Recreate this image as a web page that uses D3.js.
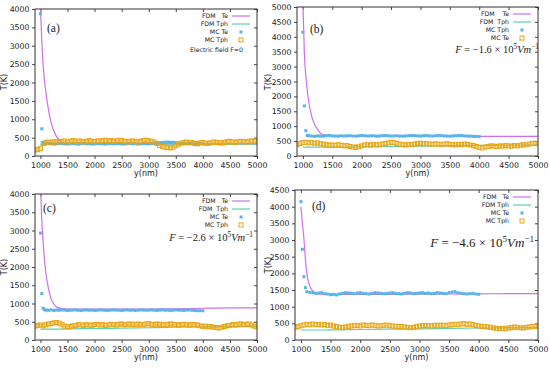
<!DOCTYPE html>
<html>
<head>
<meta charset="utf-8">
<script src="https://cdn.jsdelivr.net/npm/d3@7"></script>
<style>
  html, body { margin: 0; padding: 0; background: #fff; }
  svg text { font-family: "DejaVu Sans", sans-serif; fill: #222; }
  .serif { font-family: "Liberation Serif", "DejaVu Serif", serif; }
</style>
</head>
<body>
<svg id="chart" width="550" height="369"></svg>
<script>
// x grids (nm)
const fdmX = [1000, 1025, 1050, 1075, 1100, 1150, 1200, 1250, 1300, 1400, 1500, 2000, 2500, 3000, 3500, 4000, 4500, 5000];
const mcHeadX = [1000, 1025, 1050, 1075];
const mcBodyX = d3.range(1100, 4001, 50);   // 59 positions
const tphX = d3.range(900, 5001, 50);       // 83 positions
const xTicks = [1000, 1500, 2000, 2500, 3000, 3500, 4000, 4500, 5000];

// ---- (a) F = 0
const fdmTeA = [4050, 3150, 2500, 2050, 1750, 1250, 900, 680, 520, 380, 340, 330, 330, 330, 330, 330, 330, 330];
const fdmTphA = [320, 320, 320, 320, 320, 320, 320, 320, 320, 320, 320, 320, 320, 320, 320, 320, 320, 320];
const mcBlueA = [3870, 740, 350, 330,
  330, 340, 335, 325, 330, 340, 335, 330, 325, 335,
  340, 330, 325, 335, 340, 330, 335, 325, 330, 340,
  335, 330, 325, 335, 340, 330, 335, 340, 330, 325,
  335, 340, 330, 335, 325, 330, 340, 335, 330, 340,
  345, 350, 360, 370, 375, 380, 370, 375, 365, 355,
  340, 335, 330, 340, 335, 330, 340, 335, 330];
const mcOrangeA = [
  160, 180, 200, 340, 370, 380, 360, 390, 380, 400,
  390, 410, 380, 400, 420, 390, 410, 400, 380, 400,
  420, 400, 390, 410, 400, 420, 430, 410, 420, 400,
  410, 430, 420, 400, 380, 400, 410, 390, 380, 400,
  420, 430, 410, 400, 380, 340, 290, 260, 240, 230,
  220, 240, 280, 320, 350, 370, 380, 360, 370, 340,
  330, 360, 370, 350, 340, 360, 380, 370, 360, 350,
  370, 390, 400, 380, 370, 390, 400, 390, 380, 400,
  410, 400, 410];

// ---- (b) F = -1.6e5
const fdmTeB = [5200, 3450, 2700, 2200, 1820, 1330, 1060, 900, 760, 690, 675, 670, 670, 670, 665, 660, 660, 660];
const fdmTphB = [300, 300, 300, 300, 300, 300, 300, 300, 300, 300, 300, 310, 320, 330, 345, 355, 360, 365];
const mcBlueB = [4150, 1680, 850, 690,
  680, 670, 660, 675, 670, 665, 680, 690, 675, 670,
  665, 680, 670, 675, 685, 670, 665, 680, 690, 680,
  670, 675, 680, 665, 670, 685, 690, 680, 670, 675,
  680, 670, 665, 675, 680, 690, 685, 675, 670, 680,
  685, 675, 670, 680, 690, 685, 675, 670, 665, 675,
  680, 690, 685, 675, 670, 665, 660, 655, 650];
const mcOrangeB = [
  380, 420, 450, 460, 440, 450, 430, 440, 410, 400,
  380, 360, 370, 350, 380, 360, 340, 350, 320, 300,
  290, 310, 340, 370, 380, 360, 390, 370, 380, 400,
  420, 440, 460, 450, 420, 400, 380, 370, 390, 380,
  400, 420, 430, 410, 420, 400, 390, 410, 400, 380,
  400, 410, 390, 380, 370, 390, 380, 400, 390, 370,
  350, 320, 290, 270, 300, 320, 340, 330, 320, 340,
  330, 350, 340, 330, 350, 340, 360, 380, 370, 400,
  420, 430, 410];

// ---- (c) F = -2.6e5
const fdmTeC = [4300, 3300, 2700, 2200, 1850, 1400, 1120, 980, 900, 860, 850, 850, 850, 850, 855, 870, 880, 880];
const fdmTphC = [300, 300, 300, 300, 300, 300, 300, 300, 300, 300, 305, 315, 325, 335, 350, 360, 365, 370];
const mcBlueC = [2930, 1270, 870, 830,
  820, 815, 825, 810, 820, 815, 825, 820, 810, 815,
  820, 825, 815, 810, 820, 825, 815, 820, 810, 815,
  825, 820, 815, 810, 820, 825, 820, 815, 810, 820,
  825, 815, 820, 810, 815, 825, 820, 815, 820, 825,
  815, 810, 820, 825, 815, 820, 810, 815, 825, 820,
  815, 810, 820, 825, 815, 810, 800, 805, 800];
const mcOrangeC = [
  380, 400, 410, 390, 420, 440, 450, 470, 480, 460,
  420, 380, 360, 370, 390, 400, 420, 410, 400, 420,
  410, 400, 420, 430, 410, 420, 400, 410, 430, 420,
  410, 430, 440, 420, 430, 440, 430, 420, 440, 430,
  420, 440, 450, 430, 420, 440, 430, 420, 410, 430,
  440, 430, 420, 410, 420, 430, 420, 410, 430, 420,
  410, 390, 370, 380, 360, 370, 350, 340, 330, 350,
  370, 390, 400, 420, 410, 430, 440, 420, 430, 440,
  410, 380, 360];

// ---- (d) F = -4.6e5
const fdmTeD = [4000, 3500, 3050, 2450, 2000, 1620, 1470, 1400, 1380, 1370, 1370, 1370, 1370, 1375, 1380, 1385, 1390, 1390];
const fdmTphD = [300, 300, 300, 300, 300, 300, 300, 300, 300, 300, 305, 315, 325, 335, 350, 360, 365, 370];
const mcBlueD = [4150, 2720, 1900, 1570,
  1450, 1430, 1420, 1400, 1410, 1420, 1390, 1380, 1360, 1370,
  1350, 1380, 1400, 1420, 1410, 1400, 1390, 1410, 1420, 1400,
  1390, 1380, 1400, 1420, 1410, 1400, 1390, 1400, 1410, 1420,
  1400, 1390, 1380, 1400, 1420, 1410, 1390, 1400, 1410, 1420,
  1400, 1410, 1390, 1400, 1420, 1410, 1400, 1390, 1420, 1440,
  1450, 1420, 1400, 1390, 1380, 1390, 1400, 1380, 1370];
const mcOrangeD = [
  380, 400, 430, 450, 470, 460, 480, 460, 470, 450,
  460, 440, 450, 420, 400, 380, 370, 390, 410, 420,
  430, 440, 420, 450, 440, 430, 450, 440, 420, 430,
  440, 450, 430, 420, 410, 400, 410, 390, 380, 370,
  380, 400, 420, 430, 440, 430, 420, 440, 430, 450,
  440, 430, 450, 460, 470, 460, 480, 490, 470, 480,
  460, 440, 420, 410, 400, 390, 380, 360, 350, 340,
  350, 340, 360, 370, 390, 380, 370, 360, 380, 390,
  400, 410, 420];

const legendA = ["FDM   Te", "FDM Tph", "MC Te", "MC Tph"];
const legendB = ["FDM    Te", "FDM  Tph", "MC Tph", "MC Te"];
const legendC = ["FDM   Te", "FDM  Tph", "MC Te", "MC Tph"];
const legendD = ["FDM   Te", "FDM Tph", "MC Te", "MC Tph"];

const COL = { te: "#cf6ff0", tph: "#5fd0ae", blue: "#56b4e9", orange: "#e9a410" };
const TICK_FONT = 7.8;

const mcX = mcHeadX.concat(mcBodyX);

const panels = [
  { id: "a", left: 35, right: 257, top: 9, bottom: 156, yMax: 4000, te: fdmTeA, tph: fdmTphA, blue: mcBlueA, orange: mcOrangeA,
    legend: legendA, tlab: [4, 82], tag: [47, 32], note: "field" },
  { id: "b", left: 297, right: 538, top: 7, bottom: 156, yMax: 5000, te: fdmTeB, tph: fdmTphB, blue: mcBlueB, orange: mcOrangeB,
    legend: legendB, tlab: [268, 82], tag: [310, 33], note: { v: "1.6", x: 539, y: 53, size: 10.5 } },
  { id: "c", left: 35, right: 257, top: 194, bottom: 340, yMax: 4000, te: fdmTeC, tph: fdmTphC, blue: mcBlueC, orange: mcOrangeC,
    legend: legendC, tlab: [4, 267], tag: [43, 212], note: { v: "2.6", x: 253, y: 241, size: 10.5 } },
  { id: "d", left: 295, right: 538, top: 190, bottom: 340, yMax: 4500, te: fdmTeD, tph: fdmTphD, blue: mcBlueD, orange: mcOrangeD,
    legend: legendD, tlab: [268, 265], tag: [312, 210], note: { v: "4.6", x: 534, y: 247, size: 13 } }
];

const svg = d3.select("#chart");

panels.forEach(p => {
  const x = d3.scaleLinear([900, 5000], [p.left, p.right]);
  const y = d3.scaleLinear([0, p.yMax], [p.bottom, p.top]);
  const g = svg.append("g");
  const w = p.right - p.left, h = p.bottom - p.top;

  g.append("clipPath").attr("id", "clip-" + p.id)
    .append("rect").attr("x", p.left).attr("y", p.top).attr("width", w).attr("height", h);

  // axes: outward ticks left/bottom, inward mirror ticks top/right
  const yTicks = d3.range(0, p.yMax + 1, 500);
  g.append("g").attr("transform", `translate(${p.left},0)`)
    .call(d3.axisLeft(y).tickValues(yTicks).tickSize(3).tickPadding(2.5).tickFormat(d3.format("d")))
    .call(a => a.select(".domain").remove())
    .call(a => a.selectAll("line").attr("stroke", "#444"))
    .call(a => a.selectAll("text").attr("font-size", TICK_FONT).attr("font-family", "DejaVu Sans").attr("fill", "#222"));
  g.append("g").attr("transform", `translate(0,${p.bottom})`)
    .call(d3.axisBottom(x).tickValues(xTicks).tickSize(3).tickPadding(3).tickFormat(d3.format("d")))
    .call(a => a.select(".domain").remove())
    .call(a => a.selectAll("line").attr("stroke", "#444"))
    .call(a => a.selectAll("text").attr("font-size", TICK_FONT).attr("font-family", "DejaVu Sans").attr("fill", "#222"));
  g.append("g").attr("transform", `translate(0,${p.top})`)
    .call(d3.axisBottom(x).tickValues(xTicks).tickSize(3).tickFormat(""))
    .call(a => a.select(".domain").remove())
    .call(a => a.selectAll("line").attr("stroke", "#444"));
  g.append("g").attr("transform", `translate(${p.right},0)`)
    .call(d3.axisRight(y).tickValues(yTicks).tickSize(-3).tickFormat(""))
    .call(a => a.select(".domain").remove())
    .call(a => a.selectAll("line").attr("stroke", "#444"));

  // data
  const plot = g.append("g").attr("clip-path", `url(#clip-${p.id})`);
  const line = d3.line().x(d => x(d[0])).y(d => y(d[1])).curve(d3.curveMonotoneX);
  plot.append("path").attr("d", line(d3.zip(fdmX, p.te)))
    .attr("fill", "none").attr("stroke", COL.te).attr("stroke-width", 1.2);
  plot.append("path").attr("d", line(d3.zip(fdmX, p.tph)))
    .attr("fill", "none").attr("stroke", COL.tph).attr("stroke-width", 1.2);
  plot.selectAll(".mcb").data(d3.zip(mcX, p.blue)).join("rect")
    .attr("x", d => x(d[0]) - 1.5).attr("y", d => y(d[1]) - 1.5)
    .attr("width", 3).attr("height", 3).attr("fill", COL.blue);
  plot.selectAll(".mco").data(d3.zip(tphX, p.orange)).join("rect")
    .attr("x", d => x(d[0]) - 2).attr("y", d => y(d[1]) - 2)
    .attr("width", 4).attr("height", 4).attr("fill", "none")
    .attr("stroke", COL.orange).attr("stroke-width", 1);

  // frame
  g.append("rect").attr("x", p.left).attr("y", p.top).attr("width", w).attr("height", h)
    .attr("fill", "none").attr("stroke", "#333").attr("stroke-width", 1);

  // axis titles
  g.append("text").attr("transform", `translate(${p.tlab[0]},${p.tlab[1]}) rotate(-90)`)
    .attr("text-anchor", "middle").attr("dy", "0.35em").attr("font-size", 8).text("T(K)");
  g.append("text").attr("x", (p.left + p.right) / 2).attr("y", p.bottom + 20)
    .attr("text-anchor", "middle").attr("font-size", 8).text("y(nm)");

  // panel tag
  g.append("text").attr("class", "serif").attr("x", p.tag[0]).attr("y", p.tag[1])
    .attr("font-size", 11.5).text(`(${p.id})`);

  // legend
  const lg = g.append("g").attr("font-size", 6.2);
  p.legend.forEach((lab, i) => {
    const ly = p.top + 7 + i * 8;
    lg.append("text").attr("x", p.right - 29).attr("y", ly).attr("dy", "0.35em")
      .attr("text-anchor", "end").style("white-space", "pre").attr("fill", "#333").text(lab);
    const cx = p.right - 16;
    if (i === 0 || i === 1) {
      lg.append("line").attr("x1", p.right - 25).attr("x2", p.right - 7).attr("y1", ly).attr("y2", ly)
        .attr("stroke", i === 0 ? COL.te : COL.tph).attr("stroke-width", 1.2);
    } else if (i === 2) {
      lg.append("rect").attr("x", cx - 1.5).attr("y", ly - 1.5).attr("width", 3).attr("height", 3).attr("fill", COL.blue);
    } else {
      lg.append("rect").attr("x", cx - 2).attr("y", ly - 2).attr("width", 4).attr("height", 4)
        .attr("fill", "none").attr("stroke", COL.orange).attr("stroke-width", 1);
    }
  });

  if (p.note === "field") {
    lg.append("text").attr("x", p.right - 14).attr("y", p.top + 41).attr("dy", "0.35em")
      .attr("text-anchor", "end").attr("fill", "#333").text("Electric field F=0");
  } else {
    const t = g.append("text").attr("class", "serif").attr("x", p.note.x).attr("y", p.note.y)
      .attr("text-anchor", "end").attr("font-size", p.note.size).attr("fill", "#333");
    t.append("tspan").attr("font-style", "italic").text("F");
    t.append("tspan").text(` = −${p.note.v} × 10`);
    t.append("tspan").attr("font-size", p.note.size * 0.7).attr("dy", -p.note.size * 0.4).text("5");
    t.append("tspan").attr("font-style", "italic").attr("dy", p.note.size * 0.4).text("Vm");
    t.append("tspan").attr("font-size", p.note.size * 0.7).attr("dy", -p.note.size * 0.4).text("−1");
  }
});
</script>
</body>
</html>
